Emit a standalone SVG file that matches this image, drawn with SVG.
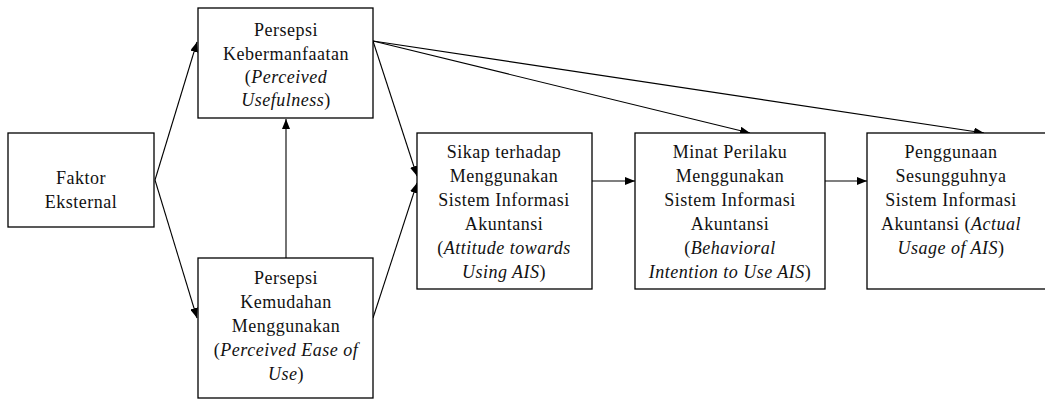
<svg xmlns="http://www.w3.org/2000/svg" width="1045" height="400" viewBox="0 0 1045 400">
<style>
.box{fill:#fff;stroke:#000;stroke-width:1.3}
.c{stroke:#000;stroke-width:1.1;fill:none;marker-end:url(#ah)}
.t{font-family:"Liberation Serif","Times New Roman",serif;font-size:18px;letter-spacing:0.5px;fill:#111;text-anchor:middle}
.i{font-style:italic}
</style>
<defs>
<marker id="ah" viewBox="0 0 10 8" refX="10" refY="4" markerWidth="10" markerHeight="8" markerUnits="userSpaceOnUse" orient="auto">
<path d="M0,0 L10,4 L0,8 Z" fill="#000"/>
</marker>
</defs>
<rect width="1045" height="400" fill="#fff"/>
<g id="connectors">
<line class="c" x1="155" y1="180" x2="197" y2="42"/>
<line class="c" x1="155" y1="180" x2="197" y2="318"/>
<line class="c" x1="286" y1="258" x2="286" y2="119"/>
<line class="c" x1="373" y1="41" x2="417" y2="176"/>
<line class="c" x1="373" y1="318" x2="417" y2="183"/>
<line class="c" x1="373" y1="41" x2="750" y2="133"/>
<line class="c" x1="373" y1="41" x2="984" y2="133"/>
<line class="c" x1="592" y1="181" x2="635" y2="181"/>
<line class="c" x1="825" y1="181" x2="867" y2="181"/>
</g>
<g id="faktor">
<rect class="box" x="8" y="133" width="146" height="94"/>
<text class="t" x="81" y="184">Faktor</text>
<text class="t" x="81" y="208">Eksternal</text>
</g>
<g id="pu">
<rect class="box" x="198" y="8" width="175" height="110"/>
<text class="t" x="286" y="36">Persepsi</text>
<text class="t" x="286" y="60">Kebermanfaatan</text>
<text class="t" x="286" y="83">(<tspan class="i">Perceived</tspan></text>
<text class="t" x="286" y="106"><tspan class="i">Usefulness</tspan>)</text>
</g>
<g id="peou">
<rect class="box" x="198" y="258" width="175" height="140"/>
<text class="t" x="286" y="284">Persepsi</text>
<text class="t" x="286" y="308">Kemudahan</text>
<text class="t" x="286" y="332">Menggunakan</text>
<text class="t" x="286" y="356">(<tspan class="i">Perceived Ease of</tspan></text>
<text class="t" x="286" y="380"><tspan class="i">Use</tspan>)</text>
</g>
<g id="sikap">
<rect class="box" x="417" y="133" width="175" height="156"/>
<text class="t" x="504" y="158">Sikap terhadap</text>
<text class="t" x="504" y="182">Menggunakan</text>
<text class="t" x="504" y="206">Sistem Informasi</text>
<text class="t" x="504" y="230">Akuntansi</text>
<text class="t" x="504" y="254">(<tspan class="i">Attitude towards</tspan></text>
<text class="t" x="504" y="278"><tspan class="i">Using AIS</tspan>)</text>
</g>
<g id="minat">
<rect class="box" x="635" y="133" width="190" height="156"/>
<text class="t" x="730" y="158">Minat Perilaku</text>
<text class="t" x="730" y="182">Menggunakan</text>
<text class="t" x="730" y="206">Sistem Informasi</text>
<text class="t" x="730" y="230">Akuntansi</text>
<text class="t" x="730" y="254">(<tspan class="i">Behavioral</tspan></text>
<text class="t" x="730" y="278"><tspan class="i">Intention to Use AIS</tspan>)</text>
</g>
<g id="penggunaan">
<rect class="box" x="867" y="133" width="190" height="156"/>
<text class="t" x="951" y="158">Penggunaan</text>
<text class="t" x="951" y="182">Sesungguhnya</text>
<text class="t" x="951" y="206">Sistem Informasi</text>
<text class="t" x="951" y="230">Akuntansi (<tspan class="i">Actual</tspan></text>
<text class="t" x="951" y="254"><tspan class="i">Usage of AIS</tspan>)</text>
</g>
</svg>
